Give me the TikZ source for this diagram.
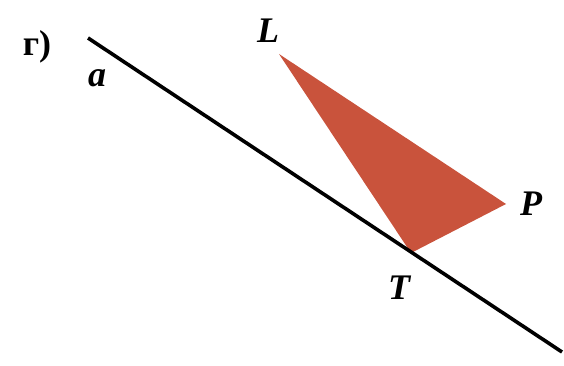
\documentclass[tikz,border=0pt]{standalone}
\usepackage{fontspec}
\setmainfont{Liberation Serif}
\definecolor{tri}{HTML}{C9533C}
\begin{document}
\begin{tikzpicture}[x=1pt,y=-1pt,
  lbl/.style={font=\fontsize{36}{36}\selectfont\bfseries\itshape, inner sep=0pt},
  line/.style={line width=3.6pt, black}]
\useasboundingbox (0,0) rectangle (564,366);
\coordinate (A) at (88,38);
\coordinate (B) at (562,352);
\coordinate (L) at (279,54);
\coordinate (P) at (506,204);
\coordinate (T) at (411,253);
\fill[tri] (L) -- (P) -- (T) -- cycle;
\draw[line] (A) -- (B);
\node[font=\fontsize{36}{36}\selectfont\bfseries, inner sep=0pt] (g) at (37,47) {г)};
\node[lbl] (la) at (97,78) {a};
\node[lbl] (lL) at (268,31) {L};
\node[lbl] (lP) at (531,204) {P};
\node[lbl] (lT) at (399,288) {T};
\end{tikzpicture}
\end{document}
